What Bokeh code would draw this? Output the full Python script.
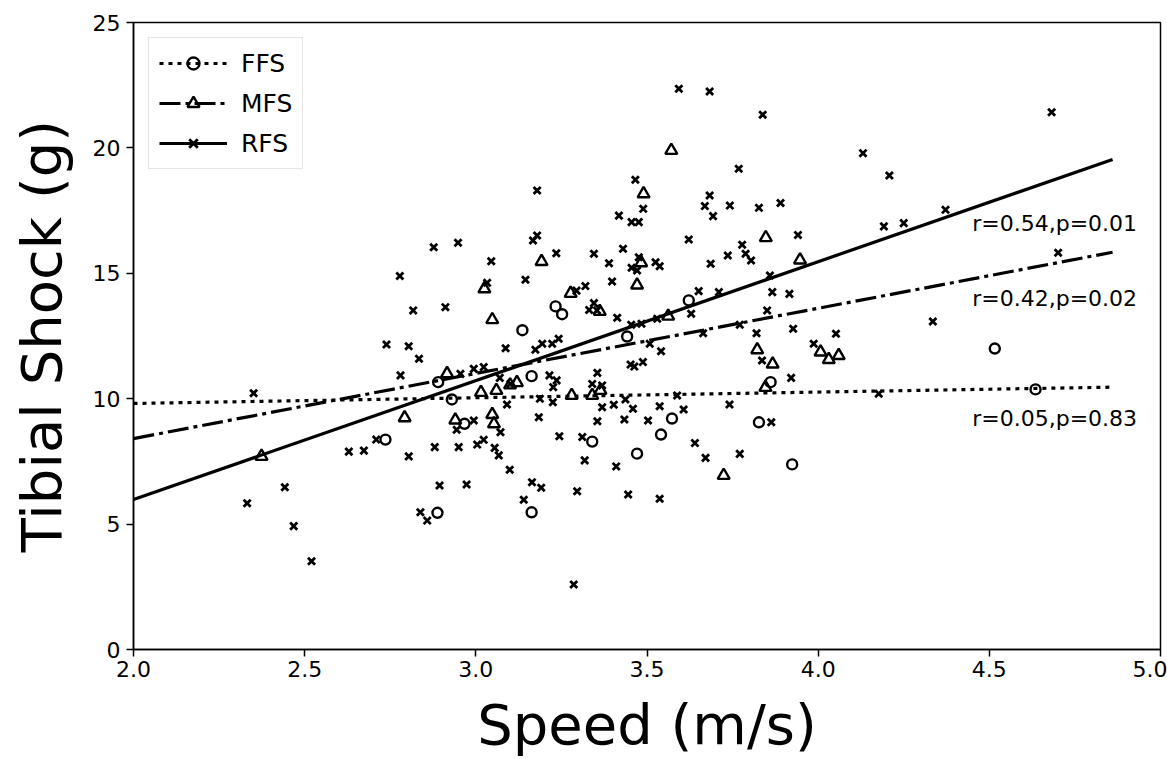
from bokeh.plotting import figure
from bokeh.models import Range1d, FixedTicker, Legend, LegendItem, NumeralTickFormatter
from bokeh.core.properties import value
from bokeh.embed import file_html
from bokeh.resources import INLINE

# ---- data ----
ffs_speed = [2.736, 2.890, 2.930, 2.967, 2.888, 3.136, 3.163, 3.163, 3.233, 3.252, 3.340,
             3.442, 3.471, 3.541, 3.573, 3.622, 3.827, 3.861, 3.924, 4.516, 4.635]
ffs_shock = [8.37, 10.66, 9.97, 9.00, 5.45, 12.73, 10.90, 5.47, 13.68, 13.37, 8.29,
             12.48, 7.81, 8.57, 9.21, 13.92, 9.06, 10.66, 7.38, 12.00, 10.37]

mfs_speed = [2.374, 2.792, 2.916, 2.940, 3.015, 3.048, 3.025, 3.048, 3.053, 3.060, 3.100,
             3.120, 3.192, 3.277, 3.280, 3.340, 3.362, 3.364, 3.471, 3.483, 3.490, 3.562,
             3.571, 3.724, 3.822, 3.846, 3.847, 3.867, 3.947, 4.007, 4.031, 4.060]
mfs_shock = [7.70, 9.24, 11.00, 9.15, 10.25, 13.15, 14.38, 9.37, 9.00, 10.33, 10.55,
             10.64, 15.47, 14.20, 10.13, 10.13, 13.48, 10.33, 14.53, 15.42, 18.17, 13.29,
             19.90, 6.94, 11.95, 10.45, 16.42, 11.38, 15.53, 11.86, 11.56, 11.72]

rfs_speed = [2.739, 2.804, 2.834, 2.780, 2.351, 2.955, 2.994, 2.709, 2.629, 2.673, 2.804,
             2.880, 2.950, 3.004, 2.994, 2.944, 2.894, 2.973, 2.838, 2.858, 2.332, 2.442,
             2.468, 2.520, 2.877, 2.948, 2.778, 2.817, 2.911, 3.179, 3.179, 3.167, 3.045,
             3.033, 3.145, 3.593, 3.683, 3.838, 3.768, 3.466, 3.683, 3.669, 3.693, 3.742,
             3.827, 3.890, 3.489, 3.418, 3.455, 3.476, 3.622, 3.941, 3.235, 3.345, 3.389,
             3.430, 3.476, 3.455, 3.525, 3.537, 3.686, 3.736, 3.778, 3.788, 3.804, 3.398,
             3.320, 3.294, 3.345, 3.331, 3.354, 3.413, 3.454, 3.484, 3.530, 3.651, 3.710,
             3.859, 3.866, 3.916, 3.629, 3.851, 3.771, 3.664, 3.820, 3.927, 3.087, 3.174,
             3.194, 3.223, 3.242, 3.508, 3.541, 3.987, 4.052, 3.836, 3.921, 3.741, 3.863,
             4.682, 4.131, 4.208, 4.192, 4.250, 4.372, 4.701, 4.335, 4.177, 3.023, 3.070,
             3.101, 3.215, 3.236, 3.226, 3.355, 3.340, 3.369, 3.452, 3.463, 3.488, 3.091,
             3.187, 3.225, 3.184, 3.355, 3.369, 3.403, 3.437, 3.459, 3.434, 3.503, 3.537,
             3.588, 3.607, 3.072, 3.023, 3.055, 3.067, 3.099, 3.244, 3.311, 3.318, 3.410,
             3.640, 3.671, 3.771, 3.164, 3.191, 3.140, 3.296, 3.445, 3.537, 3.286, 3.471]
rfs_shock = [12.16, 12.09, 11.59, 10.93, 10.22, 10.99, 11.19, 8.37, 7.89, 7.93, 7.70,
             8.07, 8.07, 8.17, 9.13, 8.76, 6.54, 6.58, 5.47, 5.14, 5.83, 6.47,
             4.92, 3.52, 16.04, 16.22, 14.89, 13.52, 13.65, 18.30, 16.51, 16.31, 15.48,
             14.62, 14.74, 22.36, 22.25, 21.32, 19.17, 18.73, 18.10, 17.68, 17.28, 17.70,
             17.61, 17.80, 17.57, 17.30, 17.04, 17.04, 16.35, 16.53, 15.80, 15.78, 15.40,
             15.98, 15.64, 15.22, 15.44, 15.28, 15.38, 15.71, 16.14, 15.78, 15.51, 14.67,
             14.49, 14.31, 13.81, 13.54, 13.52, 13.23, 12.95, 12.99, 13.19, 14.29, 14.25,
             14.91, 14.25, 14.18, 13.39, 13.52, 12.95, 12.61, 12.61, 12.79, 12.01, 11.95,
             12.19, 12.19, 12.39, 12.19, 11.89, 12.19, 12.59, 11.52, 10.83, 9.77, 9.06,
             21.42, 19.79, 18.90, 16.87, 17.00, 17.53, 15.82, 13.08, 10.20, 11.26, 10.83,
             10.59, 10.93, 10.73, 10.46, 11.03, 10.59, 10.53, 11.36, 11.28, 11.46, 9.77,
             10.00, 9.86, 9.26, 9.10, 9.66, 9.76, 9.97, 9.60, 9.17, 9.13, 9.70,
             10.13, 9.57, 8.66, 8.36, 8.04, 7.74, 7.17, 8.50, 8.47, 7.54, 7.30,
             8.23, 7.64, 7.80, 6.67, 6.45, 5.97, 6.31, 6.18, 6.01, 2.59, 15.11]

# regression lines (end points)
fit_speed = [2.0, 4.86]
ffs_fit = [9.81, 10.46]
mfs_fit = [8.41, 15.84]
rfs_fit = [5.98, 19.54]

stat_labels = ["r=0.54,p=0.01", "r=0.42,p=0.02", "r=0.05,p=0.83"]
stat_x = [4.45, 4.45, 4.45]
stat_y = [17.0, 14.0, 9.2]

x_ticks = [2.0, 2.5, 3.0, 3.5, 4.0, 4.5, 5.0]
y_ticks = [0, 5, 10, 15, 20, 25]

FONT = "DejaVu Sans"

p = figure(width=1167, height=759, output_backend="svg", toolbar_location=None,
           x_range=Range1d(2.0, 5.0), y_range=Range1d(0, 25),
           min_border_left=133, min_border_right=7, min_border_top=22, min_border_bottom=110)

p.xgrid.visible = False
p.ygrid.visible = False
p.outline_line_color = "black"
p.outline_line_width = 1.5
p.background_fill_color = "white"
p.border_fill_color = "white"

# scatter points
s_ffs = p.scatter(ffs_speed, ffs_shock, marker="circle", size=10, fill_color=None,
                  line_color="black", line_width=2.4)
s_mfs = p.scatter(mfs_speed, mfs_shock, marker="triangle", size=12, fill_color=None,
                  line_color="black", line_width=2.4)
s_rfs = p.scatter(rfs_speed, rfs_shock, marker="x", size=10, line_color="black", line_width=2.8)

# regression lines
l_ffs = p.line(fit_speed, ffs_fit, line_color="black", line_width=3.2, line_dash="4 5")
l_mfs = p.line(fit_speed, mfs_fit, line_color="black", line_width=3.2, line_dash="21 5 4 5")
l_rfs = p.line(fit_speed, rfs_fit, line_color="black", line_width=3.2)

p.text(x=stat_x, y=stat_y, text=stat_labels, text_font=value(FONT), text_font_size="22px",
       text_align="left", text_baseline="alphabetic", text_color="black")

legend = Legend(items=[
    LegendItem(label="FFS", renderers=[l_ffs, s_ffs]),
    LegendItem(label="MFS", renderers=[l_mfs, s_mfs]),
    LegendItem(label="RFS", renderers=[l_rfs, s_rfs]),
], location="top_left")
legend.label_text_font = FONT
legend.label_text_font_size = "25px"
legend.label_text_color = "black"
legend.glyph_width = 68
legend.glyph_height = 30
legend.spacing = 10
legend.padding = 10
legend.margin = 15
legend.label_standoff = 14
legend.border_line_color = "#cccccc"
legend.border_line_width = 1.5
legend.background_fill_alpha = 0.85
p.add_layout(legend)

for ax in (p.xaxis[0], p.yaxis[0]):
    ax.axis_line_color = "black"
    ax.axis_line_width = 1.5
    ax.major_tick_line_width = 1.5
    ax.major_tick_line_color = "black"
    ax.minor_tick_line_color = None
    ax.major_tick_in = 0
    ax.major_tick_out = 7
    ax.major_label_text_font = FONT
    ax.major_label_text_font_size = "22px"
    ax.major_label_text_color = "black"
    ax.axis_label_text_font = FONT
    ax.axis_label_text_font_size = "56px"
    ax.axis_label_text_font_style = "normal"
    ax.axis_label_text_color = "black"

p.xaxis[0].ticker = FixedTicker(ticks=x_ticks)
p.xaxis[0].formatter = NumeralTickFormatter(format="0.0")
p.xaxis[0].axis_label = "Speed (m/s)"
p.xaxis[0].major_label_standoff = 4
p.xaxis[0].axis_label_standoff = 12

p.yaxis[0].ticker = FixedTicker(ticks=y_ticks)
p.yaxis[0].formatter = NumeralTickFormatter(format="0")
p.yaxis[0].axis_label = "Tibial Shock (g)"
p.yaxis[0].major_label_standoff = 6
p.yaxis[0].axis_label_standoff = 16

open("out.html", "w").write(file_html(p, INLINE))
